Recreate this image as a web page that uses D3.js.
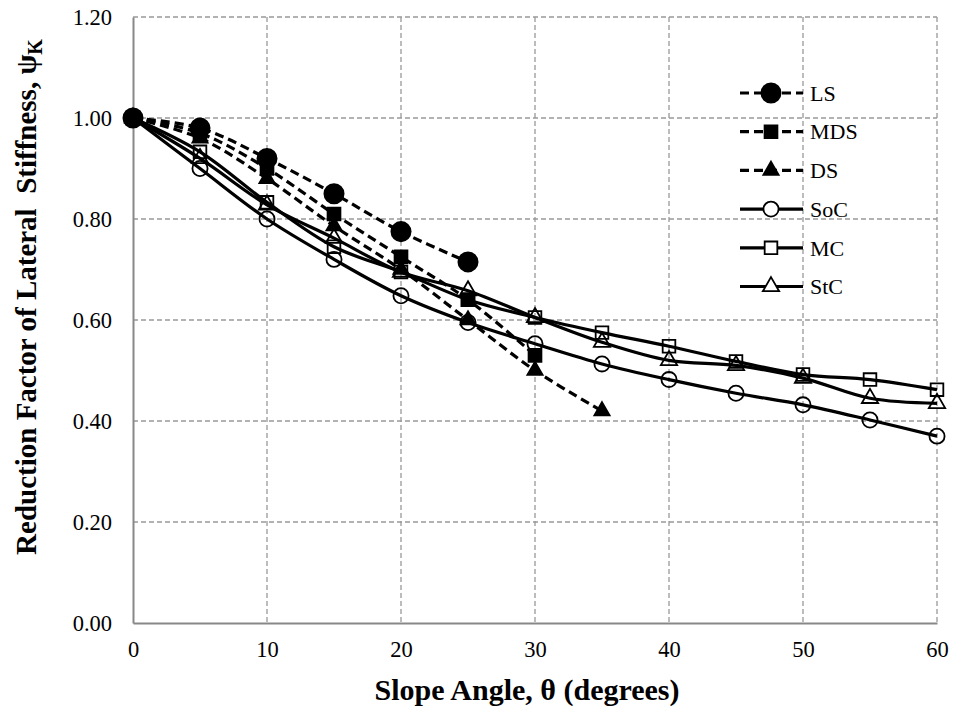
<!DOCTYPE html>
<html>
<head>
<meta charset="utf-8">
<script src="https://cdn.jsdelivr.net/npm/d3@7"></script>
<style>
  body { margin: 0; background: #fff; }
  svg text { font-family: "Liberation Serif", "Times New Roman", serif; fill: #000; }
</style>
</head>
<body>
<svg id="chart" width="955" height="711"></svg>
<script>
// data
const angles = [0, 5, 10, 15, 20, 25, 30, 35, 40, 45, 50, 55, 60];
const lsValues  = [1.00, 0.98, 0.92, 0.85, 0.775, 0.715];
const mdsValues = [1.00, 0.97, 0.90, 0.81, 0.725, 0.64, 0.53];
const dsValues  = [1.00, 0.96, 0.88, 0.786, 0.70, 0.60, 0.50, 0.42];
const socValues = [1.00, 0.90, 0.80, 0.72, 0.648, 0.595, 0.553, 0.513, 0.482, 0.455, 0.432, 0.402, 0.37];
const mcValues  = [1.00, 0.933, 0.833, 0.745, 0.695, 0.64, 0.605, 0.575, 0.548, 0.518, 0.492, 0.482, 0.462];
const stcValues = [1.00, 0.92, 0.828, 0.762, 0.695, 0.658, 0.605, 0.556, 0.52, 0.51, 0.485, 0.445, 0.435];
const xTicks = [0, 10, 20, 30, 40, 50, 60];
const yTicks = [0, 0.2, 0.4, 0.6, 0.8, 1.0, 1.2];

const series = [
  {name: 'LS',  values: lsValues,  dashed: true,  symbol: d3.symbolCircle,   filled: true},
  {name: 'MDS', values: mdsValues, dashed: true,  symbol: d3.symbolSquare,   filled: true},
  {name: 'DS',  values: dsValues,  dashed: true,  symbol: d3.symbolTriangle, filled: true},
  {name: 'SoC', values: socValues, dashed: false, symbol: d3.symbolCircle,   filled: false},
  {name: 'MC',  values: mcValues,  dashed: false, symbol: d3.symbolSquare,   filled: false},
  {name: 'StC', values: stcValues, dashed: false, symbol: d3.symbolTriangle, filled: false}
];

const serif = '"Liberation Serif", "Times New Roman", serif';
const margin = {top: 17, right: 18, bottom: 88, left: 133};
const width = 955 - margin.left - margin.right;
const height = 711 - margin.top - margin.bottom;

const svg = d3.select('#chart');
const g = svg.append('g').attr('transform', `translate(${margin.left},${margin.top})`);

const x = d3.scaleLinear().domain([0, 60]).range([0, width]);
const y = d3.scaleLinear().domain([0, 1.2]).range([height, 0]);

// grid
g.selectAll('.hgrid').data(yTicks.filter(d => d > 0))
  .enter().append('line')
  .attr('x1', 0).attr('x2', width)
  .attr('y1', d => y(d)).attr('y2', d => y(d))
  .attr('stroke', '#999').attr('stroke-width', 1.3).attr('stroke-dasharray', '5,3');

g.selectAll('.vgrid').data(xTicks.filter(d => d > 0))
  .enter().append('line')
  .attr('x1', d => x(d)).attr('x2', d => x(d))
  .attr('y1', 0).attr('y2', height)
  .attr('stroke', '#999').attr('stroke-width', 1.3).attr('stroke-dasharray', '5,3');

// axes
const xAxis = g.append('g').attr('transform', `translate(0,${height})`)
  .call(d3.axisBottom(x).tickValues(xTicks).tickSize(0).tickPadding(18).tickFormat(d3.format('d')));
const yAxis = g.append('g')
  .call(d3.axisLeft(y).tickValues(yTicks).tickSize(0).tickPadding(21).tickFormat(d3.format('.2f')));
[xAxis, yAxis].forEach(a => {
  a.attr('font-family', serif).attr('font-size', 22.5);
  a.select('.domain').attr('stroke', '#888').attr('stroke-width', 2);
});

// lines
const line = d3.line()
  .x((d, i) => x(angles[i]))
  .y(d => y(d))
  .curve(d3.curveCatmullRom.alpha(0.5));

series.forEach(s => {
  g.append('path')
    .datum(s.values)
    .attr('d', line)
    .attr('fill', 'none')
    .attr('stroke', '#000')
    .attr('stroke-width', 3.2)
    .attr('stroke-dasharray', s.dashed ? '9,5' : null);
});

function symbolSize(s) {
  if (s.symbol === d3.symbolCircle) return s.filled ? 290 : 180;
  if (s.symbol === d3.symbolSquare) return s.filled ? 165 : 160;
  return s.filled ? 100 : 115;
}

series.forEach(s => {
  g.selectAll(null).data(s.values)
    .enter().append('path')
    .attr('transform', (d, i) => `translate(${x(angles[i])},${y(d)})`)
    .attr('d', d3.symbol().type(s.symbol).size(symbolSize(s)))
    .attr('fill', s.filled ? '#000' : 'none')
    .attr('stroke', '#000')
    .attr('stroke-width', 1.8);
});

// legend
const legend = svg.append('g').attr('transform', 'translate(740,93)');
series.forEach((s, i) => {
  const row = legend.append('g').attr('transform', `translate(0,${i * 38.7})`);
  row.append('line')
    .attr('x1', 0).attr('x2', 63).attr('y1', 0).attr('y2', 0)
    .attr('stroke', '#000').attr('stroke-width', 3.2)
    .attr('stroke-dasharray', s.dashed ? '9,5' : null);
  row.append('path')
    .attr('transform', 'translate(31,0)')
    .attr('d', d3.symbol().type(s.symbol).size(symbolSize(s)))
    .attr('fill', s.filled ? '#000' : '#fff')
    .attr('stroke', '#000').attr('stroke-width', 1.8);
  row.append('text')
    .attr('x', 70).attr('y', 0).attr('dy', '0.35em')
    .style('font-size', '22px')
    .text(s.name);
});

// axis titles
svg.append('text')
  .attr('x', 527).attr('y', 700)
  .attr('text-anchor', 'middle')
  .style('font-size', '30px').style('font-weight', 'bold')
  .text('Slope Angle, θ (degrees)');

const yTitle = svg.append('text')
  .attr('transform', 'translate(36,297) rotate(-90)')
  .attr('text-anchor', 'middle')
  .style('font-size', '29px').style('font-weight', 'bold');
yTitle.append('tspan').text('Reduction Factor of Lateral\u00a0 Stiffness, ψ');
yTitle.append('tspan').attr('dy', 6).style('font-size', '20px').text('K');
</script>
</body>
</html>
